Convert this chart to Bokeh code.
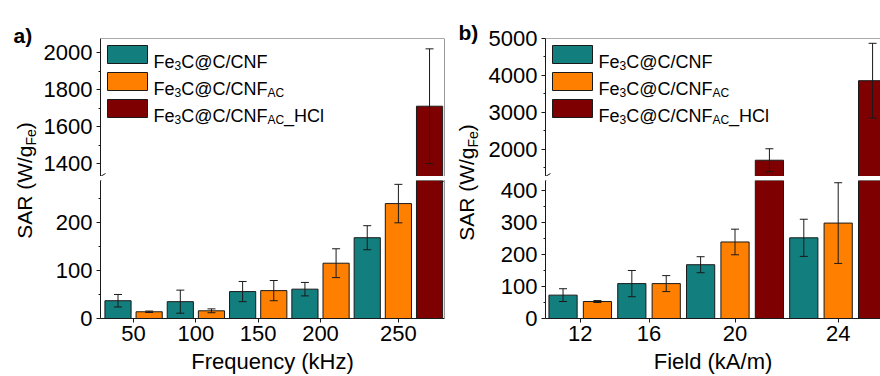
import math
from bokeh.plotting import figure
from bokeh.models import Range1d, FixedTicker, ColumnDataSource, Whisker, TeeHead, Span, Label
from bokeh.layouts import row, column
from bokeh.embed import file_html
from bokeh.resources import INLINE

# ---------------- data ----------------
series_colors = ["#127E7E", "#FF8000", "#7F0000"]
# legend labels as (text, is_subscript) pieces
legend_parts = [
    [("Fe", 0), ("3", 1), ("C@C/CNF", 0)],
    [("Fe", 0), ("3", 1), ("C@C/CNF", 0), ("AC", 1)],
    [("Fe", 0), ("3", 1), ("C@C/CNF", 0), ("AC", 1), ("_HCl", 0)],
]

freq_labels = ["50", "100", "150", "200", "250"]
freq_cnf = [37, 35, 56, 61, 168]
freq_cnf_err = [13, 24, 21, 14, 25]
freq_ac = [14, 16, 58, 115, 239]
freq_ac_err = [1.5, 4, 21, 30, 40]
freq_hcl = [None, None, None, None, 1710]
freq_hcl_err = [None, None, None, None, 310]

field_labels = ["12", "16", "20", "24"]
field_cnf = [73, 109, 168, 252]
field_cnf_err = [20, 41, 25, 58]
field_ac = [53, 109, 239, 298]
field_ac_err = [3, 25, 40, 126]
field_hcl = [None, None, 1710, 3860]
field_hcl_err = [None, None, 310, 1010]

x_title_a = "Frequency (kHz)"
x_title_b = "Field (kA/m)"
y_title_main = "SAR (W/g"
y_title_sub = "Fe"
y_title_end = ")"

# ---------------- styling helpers ----------------
FONT = "Liberation Sans"
INK = "#1a1a1a"
ARIAL = {"F": 611, "e": 556, "C": 722, "@": 1015, "/": 278, "N": 722, "A": 667, "_": 556,
         "H": 722, "l": 222, "3": 556, "S": 667, "R": 722, " ": 278, "(": 333, ")": 333,
         "W": 944, "g": 556}


def tw(s, size):
    return sum(ARIAL.get(c, 556) for c in s) / 1000.0 * size


def build_bars(labels, series):
    bars = {"x": [], "top": [], "err": [], "color": []}
    ticks = []
    slot = 0
    for gi, _ in enumerate(labels):
        xs = []
        for si, (vals, errs) in enumerate(series):
            v = vals[gi]
            if v is None:
                continue
            slot += 1
            xs.append(slot)
            bars["x"].append(slot)
            bars["top"].append(v)
            bars["err"].append(errs[gi])
            bars["color"].append(series_colors[si])
        ticks.append(sum(xs) / len(xs))
    return bars, ticks


def style_axis(ax):
    ax.axis_line_color = INK
    ax.axis_line_width = 1
    ax.major_tick_line_color = INK
    ax.minor_tick_line_color = INK
    ax.major_tick_in = 0
    ax.major_tick_out = 4
    ax.minor_tick_in = 0
    ax.minor_tick_out = 2
    ax.major_label_text_font = FONT
    ax.major_label_text_font_size = "22px"
    ax.major_label_text_color = "black"
    ax.major_label_standoff = 4


def add_legend(p):
    fs, ss = 18, 12
    for r, parts in enumerate(legend_parts):
        btm = 113 - 27 * r
        p.quad(left=[7], right=[47], bottom=[btm], top=[btm + 18], fill_color=series_colors[r],
               line_color=INK, line_width=1, x_range_name="px", y_range_name="px")
        x = 53
        for text, sub in parts:
            size = ss if sub else fs
            y = btm + 2 - (4 if sub else 0)
            p.add_layout(Label(x=x, y=y, text=text, x_range_name="px", y_range_name="px",
                               text_font=FONT, text_font_size=f"{size}px", text_color="black",
                               text_align="left", text_baseline="alphabetic"))
            x += tw(text, size)


FH = 138


def make_panel(labels, series, x_range, bar_w, lo_range, up_range, lo_ticks, lo_minor,
               up_ticks, up_minor, fig_w, border_l, border_r, xtitle, boxed):
    bars, ticks = build_bars(labels, series)
    src = ColumnDataSource(bars)
    frame_w = fig_w - border_l - border_r
    common = dict(width=fig_w, x_range=Range1d(*x_range), output_backend="svg",
                  toolbar_location=None, min_border_left=border_l, min_border_right=border_r)
    up = figure(height=176, y_range=Range1d(*up_range), x_axis_location=None,
                min_border_top=38, min_border_bottom=0, **common)
    lo = figure(height=200, y_range=Range1d(*lo_range),
                min_border_top=4, min_border_bottom=58, **common)
    for p, yr in ((up, up_range), (lo, lo_range)):
        p.extra_x_ranges = {"px": Range1d(0, frame_w)}
        p.extra_y_ranges = {"px": Range1d(0, FH)}
        p.grid.visible = False
        p.outline_line_color = None
        p.background_fill_color = "white"
        p.vbar(x="x", top="top", bottom=0, width=bar_w, fill_color="color",
               line_color=INK, line_width=1, source=src)
        sel = [i for i, t in enumerate(bars["top"]) if yr[0] <= t <= yr[1]]
        wsrc = ColumnDataSource(dict(
            x=[bars["x"][i] for i in sel],
            upper=[bars["top"][i] + bars["err"][i] for i in sel],
            lower=[bars["top"][i] - bars["err"][i] for i in sel]))
        w = Whisker(source=wsrc, base="x", upper="upper", lower="lower", line_color=INK,
                    line_width=1, level="annotation",
                    upper_head=TeeHead(size=8, line_color=INK, line_width=1),
                    lower_head=TeeHead(size=8, line_color=INK, line_width=1))
        p.add_layout(w)
        style_axis(p.yaxis[0])
    up.yaxis[0].ticker = FixedTicker(ticks=up_ticks, minor_ticks=up_minor)
    lo.yaxis[0].ticker = FixedTicker(ticks=lo_ticks, minor_ticks=lo_minor)
    xa = lo.xaxis[0]
    style_axis(xa)
    xa.ticker = FixedTicker(ticks=ticks, minor_ticks=[])
    xa.major_label_overrides = {t: lab for t, lab in zip(ticks, labels)}
    xa.major_label_standoff = 3
    xa.axis_label = xtitle
    xa.axis_label_text_font = FONT
    xa.axis_label_text_font_size = "22px"
    xa.axis_label_text_font_style = "normal"
    xa.axis_label_text_color = "black"
    xa.axis_label_standoff = 5

    up.add_layout(Span(location=up_range[1], dimension="width", line_color="#555555", line_width=1))
    if boxed:
        up.add_layout(Span(location=x_range[1], dimension="height", line_color="#333333", line_width=1))
        lo.add_layout(Span(location=x_range[1], dimension="height", line_color="#333333", line_width=1))

    # axis break marks (the parts inside the frames)
    edges = [0, frame_w] if boxed else [0]
    for ex in edges:
        up.segment(x0=[ex - 5], y0=[-3], x1=[ex + 5], y1=[3], line_color=INK, line_width=1,
                   x_range_name="px", y_range_name="px")
        lo.segment(x0=[ex - 5], y0=[FH - 3], x1=[ex + 5], y1=[FH + 3], line_color=INK,
                   line_width=1, x_range_name="px", y_range_name="px")

    add_legend(up)
    return column(up, lo, spacing=0)


def side_fig(width, letter, lx, ly, bx, cy):
    p = figure(width=width, height=376, x_range=Range1d(0, width), y_range=Range1d(0, 376),
               output_backend="svg", toolbar_location=None, x_axis_location=None,
               y_axis_location=None, min_border=0)
    p.outline_line_color = None
    p.grid.visible = False
    p.add_layout(Label(x=lx, y=ly, text=letter, text_font=FONT, text_font_size="21px",
                       text_font_style="bold", text_color="black", text_align="left",
                       text_baseline="alphabetic"))
    ms, ss = 21, 14
    L = tw(y_title_main, ms) + tw(y_title_sub, ss) + tw(y_title_end, ms)
    y0 = cy - L / 2
    # x positions are the middle lines of each piece (baseline of main text at bx)
    mid_main = bx - 0.35 * ms
    mid_sub = bx + 4 - 0.35 * ss
    pieces = [(y_title_main, ms, mid_main), (y_title_sub, ss, mid_sub), (y_title_end, ms, mid_main)]
    y = y0
    for text, size, xm in pieces:
        p.add_layout(Label(x=xm, y=y, text=text, angle=math.pi / 2, text_font=FONT,
                           text_font_size=f"{size}px", text_color="black", text_align="left",
                           text_baseline="middle"))
        y += tw(text, size)
    return p


panel_a = make_panel(freq_labels,
                     [(freq_cnf, freq_cnf_err), (freq_ac, freq_ac_err), (freq_hcl, freq_hcl_err)],
                     x_range=(0.438, 11.48), bar_w=0.84,
                     lo_range=(0, 287), up_range=(1330, 2076),
                     lo_ticks=[0, 100, 200], lo_minor=[50, 150, 250],
                     up_ticks=[1400, 1600, 1800, 2000], up_minor=[1500, 1700, 1900],
                     fig_w=408, border_l=60, border_r=4,
                     xtitle=x_title_a, boxed=True)

panel_b = make_panel(field_labels,
                     [(field_cnf, field_cnf_err), (field_ac, field_ac_err), (field_hcl, field_hcl_err)],
                     x_range=(0.49, 10.23), bar_w=0.82,
                     lo_range=(0, 431), up_range=(1270, 5000),
                     lo_ticks=[0, 100, 200, 300, 400], lo_minor=[50, 150, 250, 350],
                     up_ticks=[2000, 3000, 4000, 5000], up_minor=[1500, 2500, 3500, 4500],
                     fig_w=400, border_l=65, border_r=0,
                     xtitle=x_title_b, boxed=False)

side_a = side_fig(40, "a)", 13, 341, 31, 196)
side_b = side_fig(32, "b)", 10, 344, 25, 194)

layout = row(side_a, panel_a, side_b, panel_b, spacing=0)

with open("out.html", "w") as f:
    f.write(file_html(layout, INLINE))
